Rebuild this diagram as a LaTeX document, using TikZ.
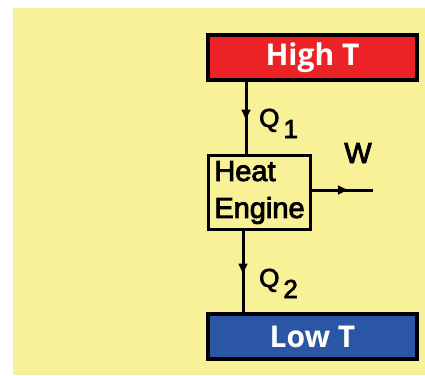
\documentclass[tikz,border=0pt]{standalone}
\usepackage{fontspec}
\setmainfont{Liberation Sans}
\newfontfamily\pixfont{Liberation Sans}[FakeBold=3]
\newfontfamily\boxfont{Open Sans}
\usetikzlibrary{arrows.meta,decorations.markings}

\definecolor{paper}{RGB}{248,241,152}
\definecolor{hotred}{RGB}{236,34,39}
\definecolor{coldblue}{RGB}{43,85,165}

\tikzset{
  reservoir/.style={draw=black, line width=4pt, minimum width=209pt, minimum height=45pt,
    inner sep=0pt, text=white, font=\boxfont\bfseries\fontsize{30}{30}\selectfont},
  engine/.style={draw=black, line width=3pt, minimum width=102pt, minimum height=74pt,
    inner sep=0pt, align=left, font=\pixfont\fontsize{29}{37}\selectfont},
  flow/.style={line width=3pt, postaction={decorate},
    decoration={markings, mark=at position #1 with {\arrow{Latex[length=12pt,width=10pt]}}}},
  lbl/.style={inner sep=0pt, font=\pixfont\fontsize{26}{26}\selectfont}
}

\begin{document}
\begin{tikzpicture}[x=1pt,y=-1pt,>=latex]
  \useasboundingbox (0,0) rectangle (425,375);
  \fill[paper] (13,8) rectangle (425,375);
  \node[reservoir, fill=hotred] (hot) at (312.5,57.5) {High T};
  \node[reservoir, fill=coldblue] (cold) at (312.5,336.5) {Low T};
  \node[engine] (eng) at (259.5,192.5) {Heat\\Engine};
  \coordinate (wout) at (373,190);
  \draw[flow=0.55] ([xshift=-13.5pt]hot.south -| eng.north) -- ([xshift=-13.5pt]eng.north);
  \draw[flow=0.55] ([xshift=-16.5pt]eng.south) -- ([xshift=-16.5pt]eng.south |- cold.north);
  \draw[flow=0.62] (eng.east |- wout) -- (wout);
  \node[lbl, anchor=base west] (q1) at (259,127) {Q\kern4pt\raisebox{-11pt}{1}};
  \node[lbl, anchor=base west] (q2) at (259,287) {Q\kern4pt\raisebox{-11pt}{2}};
  \node[lbl, anchor=base, font=\pixfont\fontsize{29}{29}\selectfont] (w) at (358,163) {W};
\end{tikzpicture}
\end{document}
